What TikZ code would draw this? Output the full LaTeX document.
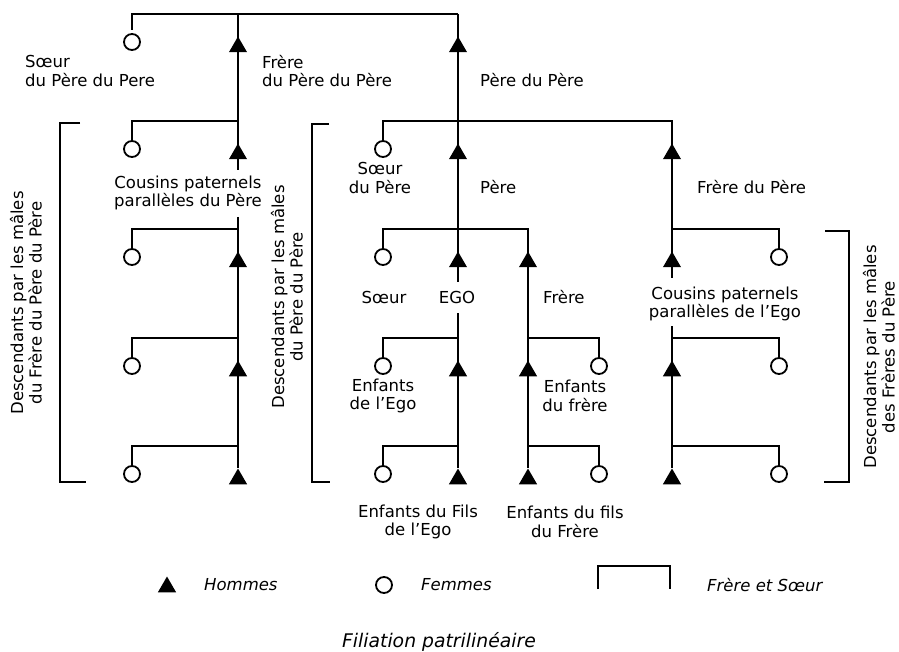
\documentclass[tikz,border=0pt]{standalone}
\usepackage{fontspec}
\setmainfont{DejaVu Sans}
\usetikzlibrary{shapes.geometric}
\begin{document}
\begin{tikzpicture}[x=1pt,y=-1pt,
  ln/.style={line width=2.1pt},
  fem/.style={circle,draw,line width=1.8pt,fill=white,minimum size=16pt,inner sep=0pt},
  hom/.style={regular polygon,regular polygon sides=3,fill=black,minimum size=21pt,inner sep=0pt},
  lab/.style={font=\fontsize{16.5}{18.5}\selectfont,inner sep=0pt,align=center},
  labl/.style={lab,align=left,anchor=west},
  leg/.style={font=\fontsize{16.5}{18.5}\selectfont\itshape,inner sep=0pt,anchor=west},
  captxt/.style={font=\fontsize{18.8}{22}\selectfont\itshape,inner sep=0pt}]
\useasboundingbox (0,0) rectangle (899,652);

% junction coordinates
\coordinate (jM1) at (458,14);
\coordinate (jL1) at (238,14);
\coordinate (gL1) at (238,170);
\coordinate (gL2) at (238,217);
\foreach \n/\y in {2/121,3/229,4/338,5/446}{\coordinate (jL\n) at (238,\y);}
\coordinate (jM2) at (458,121);
\coordinate (jR2) at (672,121);
\coordinate (gM1) at (458,282);
\coordinate (gM2) at (458,313);
\coordinate (jB3) at (528,229);
\coordinate (jM4) at (458,338);
\coordinate (jB4) at (528,338);
\coordinate (jM5) at (458,446);
\coordinate (jB5) at (528,446);
\coordinate (gR1) at (672,278);
\coordinate (gR2) at (672,326);
\coordinate (jR3) at (672,229);
\coordinate (jR4) at (672,338);
\coordinate (jR5) at (672,446);

% symbols
\foreach \n/\y in {1/14,2/121,3/229,4/338,5/446}{
  \node[hom] (tL\n) at (238,\y+33) {};
}
\node[hom] (tM1) at (458,47) {};
\node[hom] (tM2) at (458,154) {};
\node[hom] (tM3) at (458,262) {};
\node[hom] (tM4) at (458,371) {};
\node[hom] (tM5) at (458,479) {};
\node[hom] (tB3) at (528,262) {};
\node[hom] (tB4) at (528,371) {};
\node[hom] (tB5) at (528,479) {};
\node[hom] (tR2) at (672,154) {};
\node[hom] (tR3) at (672,262) {};
\node[hom] (tR4) at (672,371) {};
\node[hom] (tR5) at (672,479) {};

% lines
\draw[ln] (132,30) |- (jM1);
\draw[ln] (jL1) -- (gL1);
\draw[ln] (gL2) -- (tL5);
\foreach \n/\y in {2/121,3/229,4/338,5/446}{\draw[ln] (132,\y+20) |- (jL\n);}
\draw[ln] (jM1) -- (gM1);
\draw[ln] (gM2) -- (tM5);
\draw[ln] (383,141) |- (jR2) -- (gR1);
\draw[ln] (383,249) |- (jB3) -- (tB5);
\draw[ln] (383,358) |- (jM4);
\draw[ln] (383,466) |- (jM5);
\draw[ln] (599,358) |- (jB4);
\draw[ln] (599,466) |- (jB5);
\draw[ln] (779,249) |- (jR3);
\draw[ln] (gR2) -- (tR5);
\draw[ln] (779,358) |- (jR4);
\draw[ln] (779,466) |- (jR5);

% circles
\foreach \n/\y in {1/14,2/121,3/229,4/338,5/446}{
  \node[fem] (cL\n) at (132,\y+28) {};
}
\node[fem] (cM2) at (383,149) {};
\node[fem] (cM3) at (383,257) {};
\node[fem] (cM4) at (383,366) {};
\node[fem] (cM5) at (383,474) {};
\node[fem] (cB4) at (599,366) {};
\node[fem] (cB5) at (599,474) {};
\node[fem] (cR3) at (779,257) {};
\node[fem] (cR4) at (779,366) {};
\node[fem] (cR5) at (779,474) {};

% brackets
\draw[ln] (80,123) -- (60,123) -- (60,482) -- (86,482);
\draw[ln] (329,124) -- (312,124) -- (312,482) -- (330,482);
\draw[ln] (825,231) -- (849,231) -- (849,482) -- (824,482);

% labels
\node[labl] (l1) at (25,71) {Sœur\\du Père du Pere};
\node[labl] (l2) at (262,71) {Frère\\du Père du Père};
\node[labl] (l3) at (480,80) {Père du Père};
\node[lab] (l4) at (188,193) {Cousins paternels\\parallèles du Père};
\node[lab] (l5) at (380,178) {Sœur\\du Père};
\node[labl] (l6) at (480,187) {Père};
\node[labl] (l7) at (697,187) {Frère du Père};
\node[lab] (l8) at (384,297) {Sœur};
\node[lab] (l9) at (457,297) {EGO};
\node[labl] (l10) at (543,297) {Frère};
\node[lab] (l11) at (725,304) {Cousins paternels\\parallèles de l’Ego};
\node[lab] (l12) at (383,396) {Enfants\\de l’Ego};
\node[lab] (l13) at (575,396) {Enfants\\du frère};
\node[lab] (l14) at (418,522) {Enfants du Fils\\de l’Ego};
\node[lab] (l15) at (565,522) {Enfants du fils\\du Frère};
\node[lab,rotate=90] (r1) at (26,303) {Descendants par les mâles\\du Frère du Père du Père};
\node[lab,rotate=90] (r2) at (287,297) {Descendants par les mâles\\du Père du Père};
\node[lab,rotate=90] (r3) at (879,357) {Descendants par les mâles\\des Frères du Père};

% legend
\node[hom] (tLeg) at (167,587) {};
\node[leg] (hLeg) at (204,585) {Hommes};
\node[fem] (cLeg) at (384,585) {};
\node[leg] (fLeg) at (421,585) {Femmes};
\coordinate (bA) at (598,589);
\coordinate (bB) at (598,566);
\coordinate (bC) at (670,566);
\coordinate (bD) at (670,589);
\draw[ln] (bA) -- (bB) -- (bC) -- (bD);
\node[leg] (sLeg) at (707,585) {Frère et Sœur};
\node[captxt] (caption) at (439,642) {Filiation patrilinéaire};
\end{tikzpicture}
\end{document}
